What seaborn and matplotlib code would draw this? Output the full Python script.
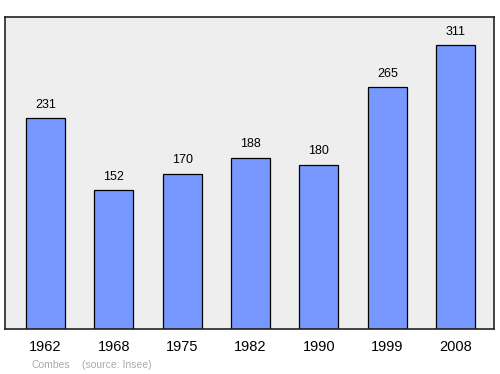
import matplotlib
matplotlib.use("Agg")
import matplotlib.pyplot as plt
import seaborn as sns
import pandas as pd

years = ["1962", "1968", "1975", "1982", "1990", "1999", "2008"]
population = [231, 152, 170, 188, 180, 265, 311]

sns.set_style("white")
plt.rcParams['font.family'] = ['Liberation Sans', 'DejaVu Sans']

fig = plt.figure(figsize=(5, 3.74), dpi=100)
ax = fig.add_axes([0.01, 0.1203, 0.978, 0.8342])
df = pd.DataFrame({"year": years, "pop": population})
sns.barplot(data=df, x="year", y="pop", color="#7799ff", saturation=1,
            edgecolor="black", linewidth=0.9, width=0.57, ax=ax)
ax.set_facecolor("#eeeeee")
ax.set_xlim(-0.59, 6.56)
ax.set_ylim(0, 342)
ax.set_xlabel("")
ax.set_ylabel("")
ax.set_yticks([])
ax.tick_params(axis="x", length=0, labelsize=10.5, pad=8, labelcolor="black")
for s in ax.spines.values():
    s.set_visible(True)
    s.set_color("#222222")
    s.set_linewidth(1.2)
for c in ax.containers:
    ax.bar_label(c, labels=[str(v) for v in population], padding=5.5, fontsize=9, color="black")
fig.text(31/500, 1-365/374, "Combes", fontsize=7.5, color="#aaaaaa", va="center")
fig.text(82/500, 1-365/374, "(source: Insee)", fontsize=7.5, color="#aaaaaa", va="center")
fig.savefig("out.png", dpi=100)
